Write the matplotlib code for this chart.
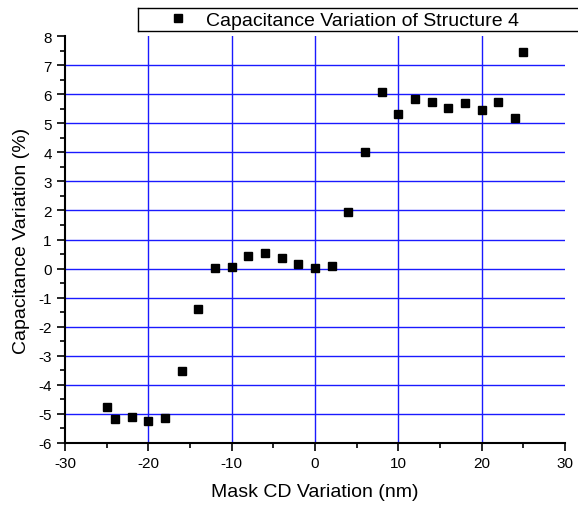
import matplotlib
matplotlib.use("Agg")
import matplotlib.pyplot as plt
from matplotlib.lines import Line2D
import numpy as np

plt.rcParams['font.family'] = ['Liberation Sans', 'DejaVu Sans']
plt.rcParams['axes.unicode_minus'] = False

# mask CD variation (nm) and capacitance variation (%)
cd_var = [-25, -24, -22, -20, -18, -16, -14, -12, -10, -8, -6, -4, -2, 0,
          2, 4, 6, 8, 10, 12, 14, 16, 18, 20, 22, 24, 25]
cap_var = [-4.76, -5.18, -5.10, -5.24, -5.15, -3.51, -1.40, 0.02, 0.05, 0.44,
           0.55, 0.38, 0.15, 0.01, 0.10, 1.94, 4.00, 6.09, 5.30, 5.82, 5.73,
           5.54, 5.70, 5.44, 5.72, 5.17, 7.45]

x_ticks = [-30, -20, -10, 0, 10, 20, 30]
y_ticks = list(range(-6, 9))
legend_label = "Capacitance Variation of Structure 4"

fig = plt.figure(figsize=(5.78, 5.10), dpi=100)
ax = fig.add_axes([65/578, 1 - 444/510, 500/578, 407/510])

# grid only on the interior ticks
for xv in x_ticks[1:-1]:
    ax.axvline(xv, color='#1a1aff', lw=1.0, zorder=1)
for yv in y_ticks[1:-1]:
    ax.axhline(yv, color='#1a1aff', lw=1.0, zorder=1)

ax.plot(cd_var, cap_var, 's', color='black', ms=6, label=legend_label, zorder=3)

ax.set_xlim(-30, 30)
ax.set_ylim(-6, 8)
ax.set_xticks(x_ticks)
ax.set_xticks(np.arange(-25, 30, 10), minor=True)
ax.set_yticks(y_ticks)
ax.set_yticks(np.arange(-5.5, 8, 1), minor=True)
ax.tick_params(which='major', direction='out', length=6, width=1.2, labelsize=11)
ax.tick_params(which='minor', direction='out', length=3.5, width=1.2)

ax.spines['top'].set_visible(False)
ax.spines['right'].set_visible(False)
ax.spines['left'].set_linewidth(1.5)
ax.spines['bottom'].set_linewidth(1.5)

ax.set_xlabel("Mask CD Variation (nm)", fontsize=14, labelpad=9)
ax.set_ylabel("Capacitance Variation (%)", fontsize=14, labelpad=6)

leg = fig.legend(loc='lower left', bbox_to_anchor=(138/578, 1 - 32/510),
                 fontsize=14, frameon=False,
                 borderpad=0.1, handlelength=3.9, handletextpad=-0.5,
                 borderaxespad=0)
# legend box runs off the right edge of the figure: draw it open on the right
bx0, by0, by1 = 138/578, 1 - 32/510, 1 - 9/510
fig.add_artist(Line2D([1.3, bx0], [by1, by1], transform=fig.transFigure,
                      color='black', lw=1.0))
fig.add_artist(Line2D([bx0, 1.3], [by0, by0], transform=fig.transFigure,
                      color='black', lw=1.0))
fig.add_artist(Line2D([bx0, bx0], [by0, by1], transform=fig.transFigure,
                      color='black', lw=1.0))

fig.savefig("out.png", dpi=100)
